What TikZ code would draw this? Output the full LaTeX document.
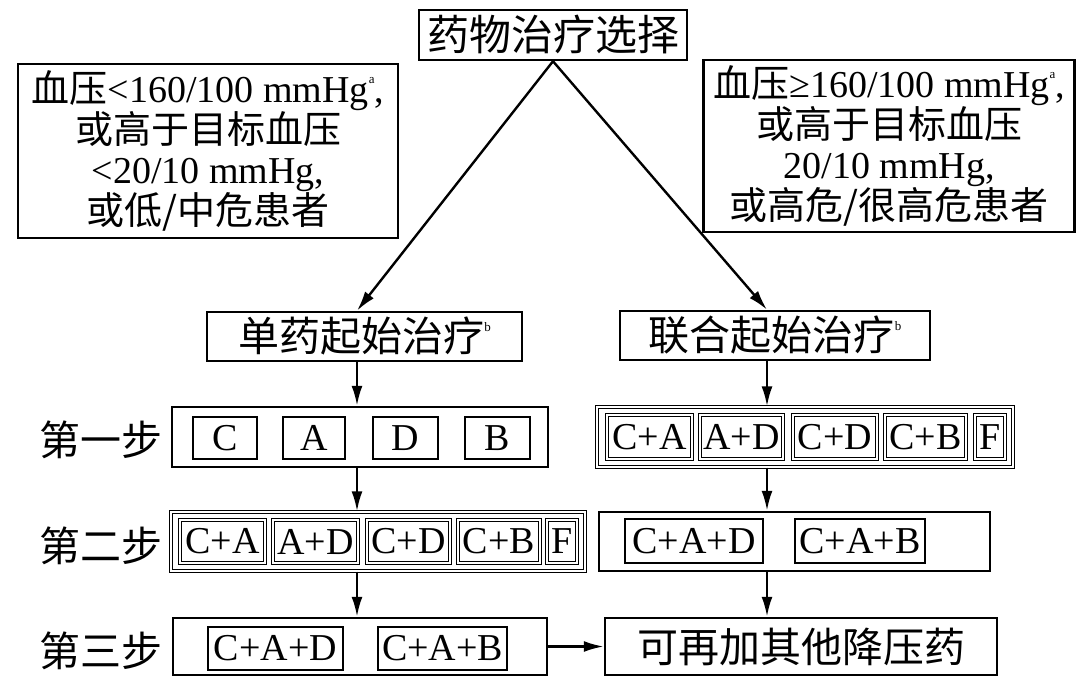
\documentclass[tikz,border=0pt]{standalone}
\usepackage{fontspec}
\setmainfont{Liberation Serif}
\newfontfamily\cjk{Noto Sans CJK SC}
\usetikzlibrary{arrows.meta,calc}
\newcommand\mysup[1]{\raisebox{0.5em}{\fontsize{13}{13}\selectfont #1}}
\tikzset{
  bx/.style={draw, line width=2.5pt, inner sep=0pt, align=center, font=\fontsize{38}{40}\selectfont},
  dbx/.style={draw, double, line width=1.4pt, double distance=1.1pt, inner sep=0pt, align=center, font=\fontsize{38}{40}\selectfont},
  ibx/.style={draw, line width=2.8pt, inner sep=0pt, align=center, font=\fontsize{38}{40}\selectfont},
  cjkbx/.style={draw, line width=2.5pt, inner sep=0pt, align=center, font=\cjk\fontsize{41}{44}\selectfont},
  steplbl/.style={inner sep=0pt, font=\cjk\fontsize{41}{44}\selectfont},
  arr/.style={line width=2.4pt, -{Latex[length=20pt,width=11pt]}},
}
\begin{document}
\begin{tikzpicture}[x=1pt,y=-1pt]
\useasboundingbox (0,0) rectangle (1076,676);
\fill[white] (0,0) rectangle (1076,676);

% title
\node[cjkbx, minimum width=268pt, minimum height=50pt, font=\cjk\fontsize{42}{44}\selectfont] (title) at (553,35) {药物治疗选择};

% conditions
\node[bx, minimum width=380pt, minimum height=174pt] (condl) at (208,151)
  {{\cjk 血压}<160/100 mmHg\mysup{a},\\{\cjk 或高于目标血压}\\<20/10 mmHg,\\{\cjk 或低/中危患者}};
\node[bx, minimum width=371pt, minimum height=172pt] (condr) at (889,146)
  {{\cjk 血压}≥160/100 mmHg\mysup{a},\\{\cjk 或高于目标血压}\\20/10 mmHg,\\{\cjk 或高危/很高危患者}};

% start boxes
\node[cjkbx, minimum width=315pt, minimum height=49pt] (single) at (364.5,336.5) {单药起始治疗\mysup{\rmfamily b}};
\node[cjkbx, minimum width=310pt, minimum height=49pt] (combo) at (775,335.5) {联合起始治疗\mysup{\rmfamily b}};

% step labels
\node[steplbl] (lab1) at (101,440) {第一步};
\node[steplbl] (lab2) at (101,546) {第二步};
\node[steplbl] (lab3) at (101,651) {第三步};

% step 1 left
\node[bx, minimum width=376pt, minimum height=60pt] (s1l) at (360,437) {};
\node[ibx, minimum width=64pt, minimum height=42pt] (s1lc) at (225,438) {C};
\node[ibx, minimum width=62pt, minimum height=42pt] (s1la) at (314,438) {A};
\node[ibx, minimum width=65pt, minimum height=42pt] (s1ld) at (405.5,438) {D};
\node[ibx, minimum width=65pt, minimum height=42pt] (s1lb) at (497.5,438) {B};

% step 1 right
\node[dbx, minimum width=416pt, minimum height=60pt] (s1r) at (805,437) {};
\node[dbx, minimum width=85pt, minimum height=44pt] (s1rca) at (649.5,437) {C+A};
\node[dbx, minimum width=83pt, minimum height=44pt] (s1rad) at (741.5,437) {A+D};
\node[dbx, minimum width=84pt, minimum height=44pt] (s1rcd) at (835,437) {C+D};
\node[dbx, minimum width=81pt, minimum height=44pt] (s1rcb) at (925.5,437) {C+B};
\node[dbx, minimum width=30pt, minimum height=44pt] (s1rf) at (990,437) {F};

% step 2 left
\node[dbx, minimum width=414pt, minimum height=59pt] (s2l) at (378,541.5) {};
\node[dbx, minimum width=85pt, minimum height=43pt] (s2lca) at (222.5,541.5) {C+A};
\node[dbx, minimum width=85pt, minimum height=43pt] (s2lad) at (315.5,541.5) {A+D};
\node[dbx, minimum width=83pt, minimum height=43pt] (s2lcd) at (408.5,541.5) {C+D};
\node[dbx, minimum width=82pt, minimum height=43pt] (s2lcb) at (499,541.5) {C+B};
\node[dbx, minimum width=30pt, minimum height=43pt] (s2lf) at (562,541.5) {F};

% step 2 right
\node[bx, minimum width=391pt, minimum height=59pt] (s2r) at (794.5,541.5) {};
\node[ibx, minimum width=138pt, minimum height=44pt] (s2rcad) at (694,541) {C+A+D};
\node[ibx, minimum width=130pt, minimum height=44pt] (s2rcab) at (860,541) {C+A+B};

% step 3 left
\node[bx, minimum width=374pt, minimum height=57pt] (s3l) at (360,646.5) {};
\node[ibx, minimum width=135pt, minimum height=43pt] (s3lcad) at (275.5,648.5) {C+A+D};
\node[ibx, minimum width=129pt, minimum height=43pt] (s3lcab) at (442.5,648.5) {C+A+B};

% final box
\node[cjkbx, minimum width=392pt, minimum height=57pt] (more) at (801,646.5) {可再加其他降压药};

% connectors
\coordinate (lx) at (357,0);
\coordinate (rx) at (767,0);
\draw[arr] (title.south) -- (lx |- single.north);
\draw[arr] (title.south) -- (rx |- combo.north);
\draw[arr] (lx |- single.south) -- (lx |- s1l.north);
\draw[arr] (lx |- s1l.south) -- (lx |- s2l.north);
\draw[arr] (lx |- s2l.south) -- (lx |- s3l.north);
\draw[arr] (rx |- combo.south) -- (rx |- s1r.north);
\draw[arr] (rx |- s1r.south) -- (rx |- s2r.north);
\draw[arr] (rx |- s2r.south) -- (rx |- more.north);
\draw[arr] (s3l.east) -- (more.west);
\end{tikzpicture}
\end{document}
